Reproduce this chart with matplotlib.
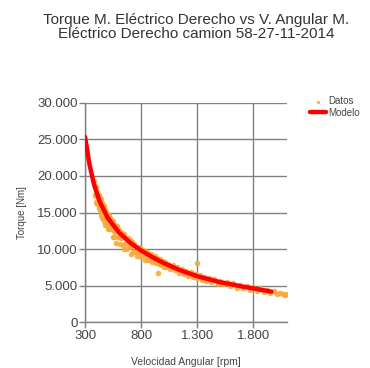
import numpy as np
import matplotlib.pyplot as plt
from matplotlib.ticker import FuncFormatter

plt.rcParams['font.family'] = ['Liberation Sans', 'DejaVu Sans']

# datos medidos (velocidad angular rpm, torque Nm)
datos_rpm = [380, 385, 390, 395, 400, 400, 405, 410, 410, 415,
             420, 420, 425, 430, 430, 435, 440, 440, 445, 450,
             450, 455, 460, 460, 465, 470, 470, 475, 480, 480,
             485, 490, 495, 500, 500, 505, 510, 515, 520, 525,
             530, 535, 540, 545, 550, 555, 560, 565, 570, 575,
             580, 590, 595, 600, 610, 615, 620, 630, 640, 645,
             650, 660, 670, 680, 690, 700, 705, 710, 720, 730,
             740, 750, 760, 770, 780, 790, 800, 810, 820, 830,
             840, 850, 860, 870, 880, 890, 900, 910, 920, 930,
             940, 950, 960, 970, 980, 990, 1000, 1010, 1020, 1040,
             1060, 1080, 1100, 1120, 1140, 1160, 1180, 1200, 1220, 1240,
             1260, 1280, 1300, 1300, 1320, 1340, 1360, 1380, 1400, 1420,
             1450, 1480, 1500, 1530, 1560, 1590, 1620, 1650, 1680, 1710,
             1740, 1770, 1800, 1830, 1860, 1890, 1920, 1950, 1980, 2010,
             2040, 2060, 2080, 2090]
datos_torque = [19300, 17370, 18640, 17210, 18480, 16380, 17250, 17820, 16120, 16990,
                17360, 15560, 16130, 17000, 15300, 16040, 16790, 14690, 15330, 16270,
                14270, 15210, 16060, 14260, 15200, 15840, 13840, 14290, 15330, 13230,
                14170, 15110, 13360, 14600, 12800, 13800, 14700, 12700, 13700, 14300,
                12700, 14000, 13200, 11600, 13800, 12500, 11700, 13300, 12400, 10900,
                13100, 11600, 12700, 11700, 10760, 12490, 11520, 12180, 10540, 9970,
                12000, 10860, 10020, 11480, 10240, 11200, 9345, 10390, 10980, 9670,
                10760, 9650, 9040, 10330, 9520, 10210, 8900, 9410, 9920, 8530,
                9040, 9650, 8460, 9370, 8580, 9290, 8200, 8620, 9040, 8060,
                8780, 6800, 7920, 8640, 7860, 8380, 7500, 8230, 7570, 8030,
                7300, 7770, 7130, 7500, 6770, 7250, 6640, 7030, 6330, 6820,
                6210, 6610, 8100, 6000, 6420, 5840, 6260, 5680, 6100, 5520,
                5900, 5280, 5700, 5210, 5570, 4930, 5340, 4750, 5160, 4670,
                4990, 4460, 4830, 4350, 4670, 4140, 4460, 4030, 4300, 3920,
                4000, 3900, 3750, 3850]

# curva del modelo
modelo_rpm = [300, 340, 380, 430, 500, 600, 700, 800, 900, 1000, 1150, 1300, 1500, 1700, 1960]
modelo_torque = [25300, 21500, 18800, 16500, 14300, 12300, 10900, 9800, 8900, 8100,
                 7100, 6300, 5500, 4900, 4200]

x_ticks = [300, 800, 1300, 1800]
y_ticks = [0, 5000, 10000, 15000, 20000, 25000, 30000]

fig = plt.figure(figsize=(3.7, 3.68), dpi=100)
ax = fig.add_axes([0.23, 0.124, 0.546, 0.597])

ax.grid(True, color='#808080', linewidth=1.0)
ax.set_axisbelow(True)
ax.scatter(datos_rpm, datos_torque, s=16, color='#F9A83A', alpha=0.9,
           linewidths=0, label='Datos', zorder=2)
ax.plot(modelo_rpm, modelo_torque, color='#FF0000', linewidth=3.2,
        solid_capstyle='round', label='Modelo', zorder=3)

ax.set_xlim(300, 2100)
ax.set_ylim(0, 30000)
ax.set_xticks(x_ticks)
ax.set_yticks(y_ticks)

fmt = FuncFormatter(lambda v, p: '{:,.0f}'.format(v).replace(',', '.'))
ax.xaxis.set_major_formatter(fmt)
ax.yaxis.set_major_formatter(fmt)

for s in ['top', 'right']:
    ax.spines[s].set_visible(False)
for s in ['left', 'bottom']:
    ax.spines[s].set_color('#808080')
    ax.spines[s].set_linewidth(1.0)

ax.tick_params(axis='both', colors='#808080', labelcolor='#444444',
               labelsize=9.5, length=4, width=1.0, direction='out', pad=1.5)

ax.set_xlabel('Velocidad Angular [rpm]', fontsize=7.5, color='#444444', labelpad=11)
ax.set_ylabel('Torque [Nm]', fontsize=7, color='#444444', labelpad=7)

fig.text(0.53, 0.965, 'Torque M. Eléctrico Derecho vs V. Angular M.\n'
         'Eléctrico Derecho camion 58-27-11-2014',
         ha='center', va='top', fontsize=11, color='#333333', linespacing=1.0)

ax.legend(loc='upper left', bbox_to_anchor=(1.08, 1.06), frameon=False,
          fontsize=7, labelcolor='#444444', handlelength=1.6, handletextpad=0.3,
          borderpad=0.2, labelspacing=0.15, markerscale=0.6)

fig.savefig('out.png', dpi=100)
